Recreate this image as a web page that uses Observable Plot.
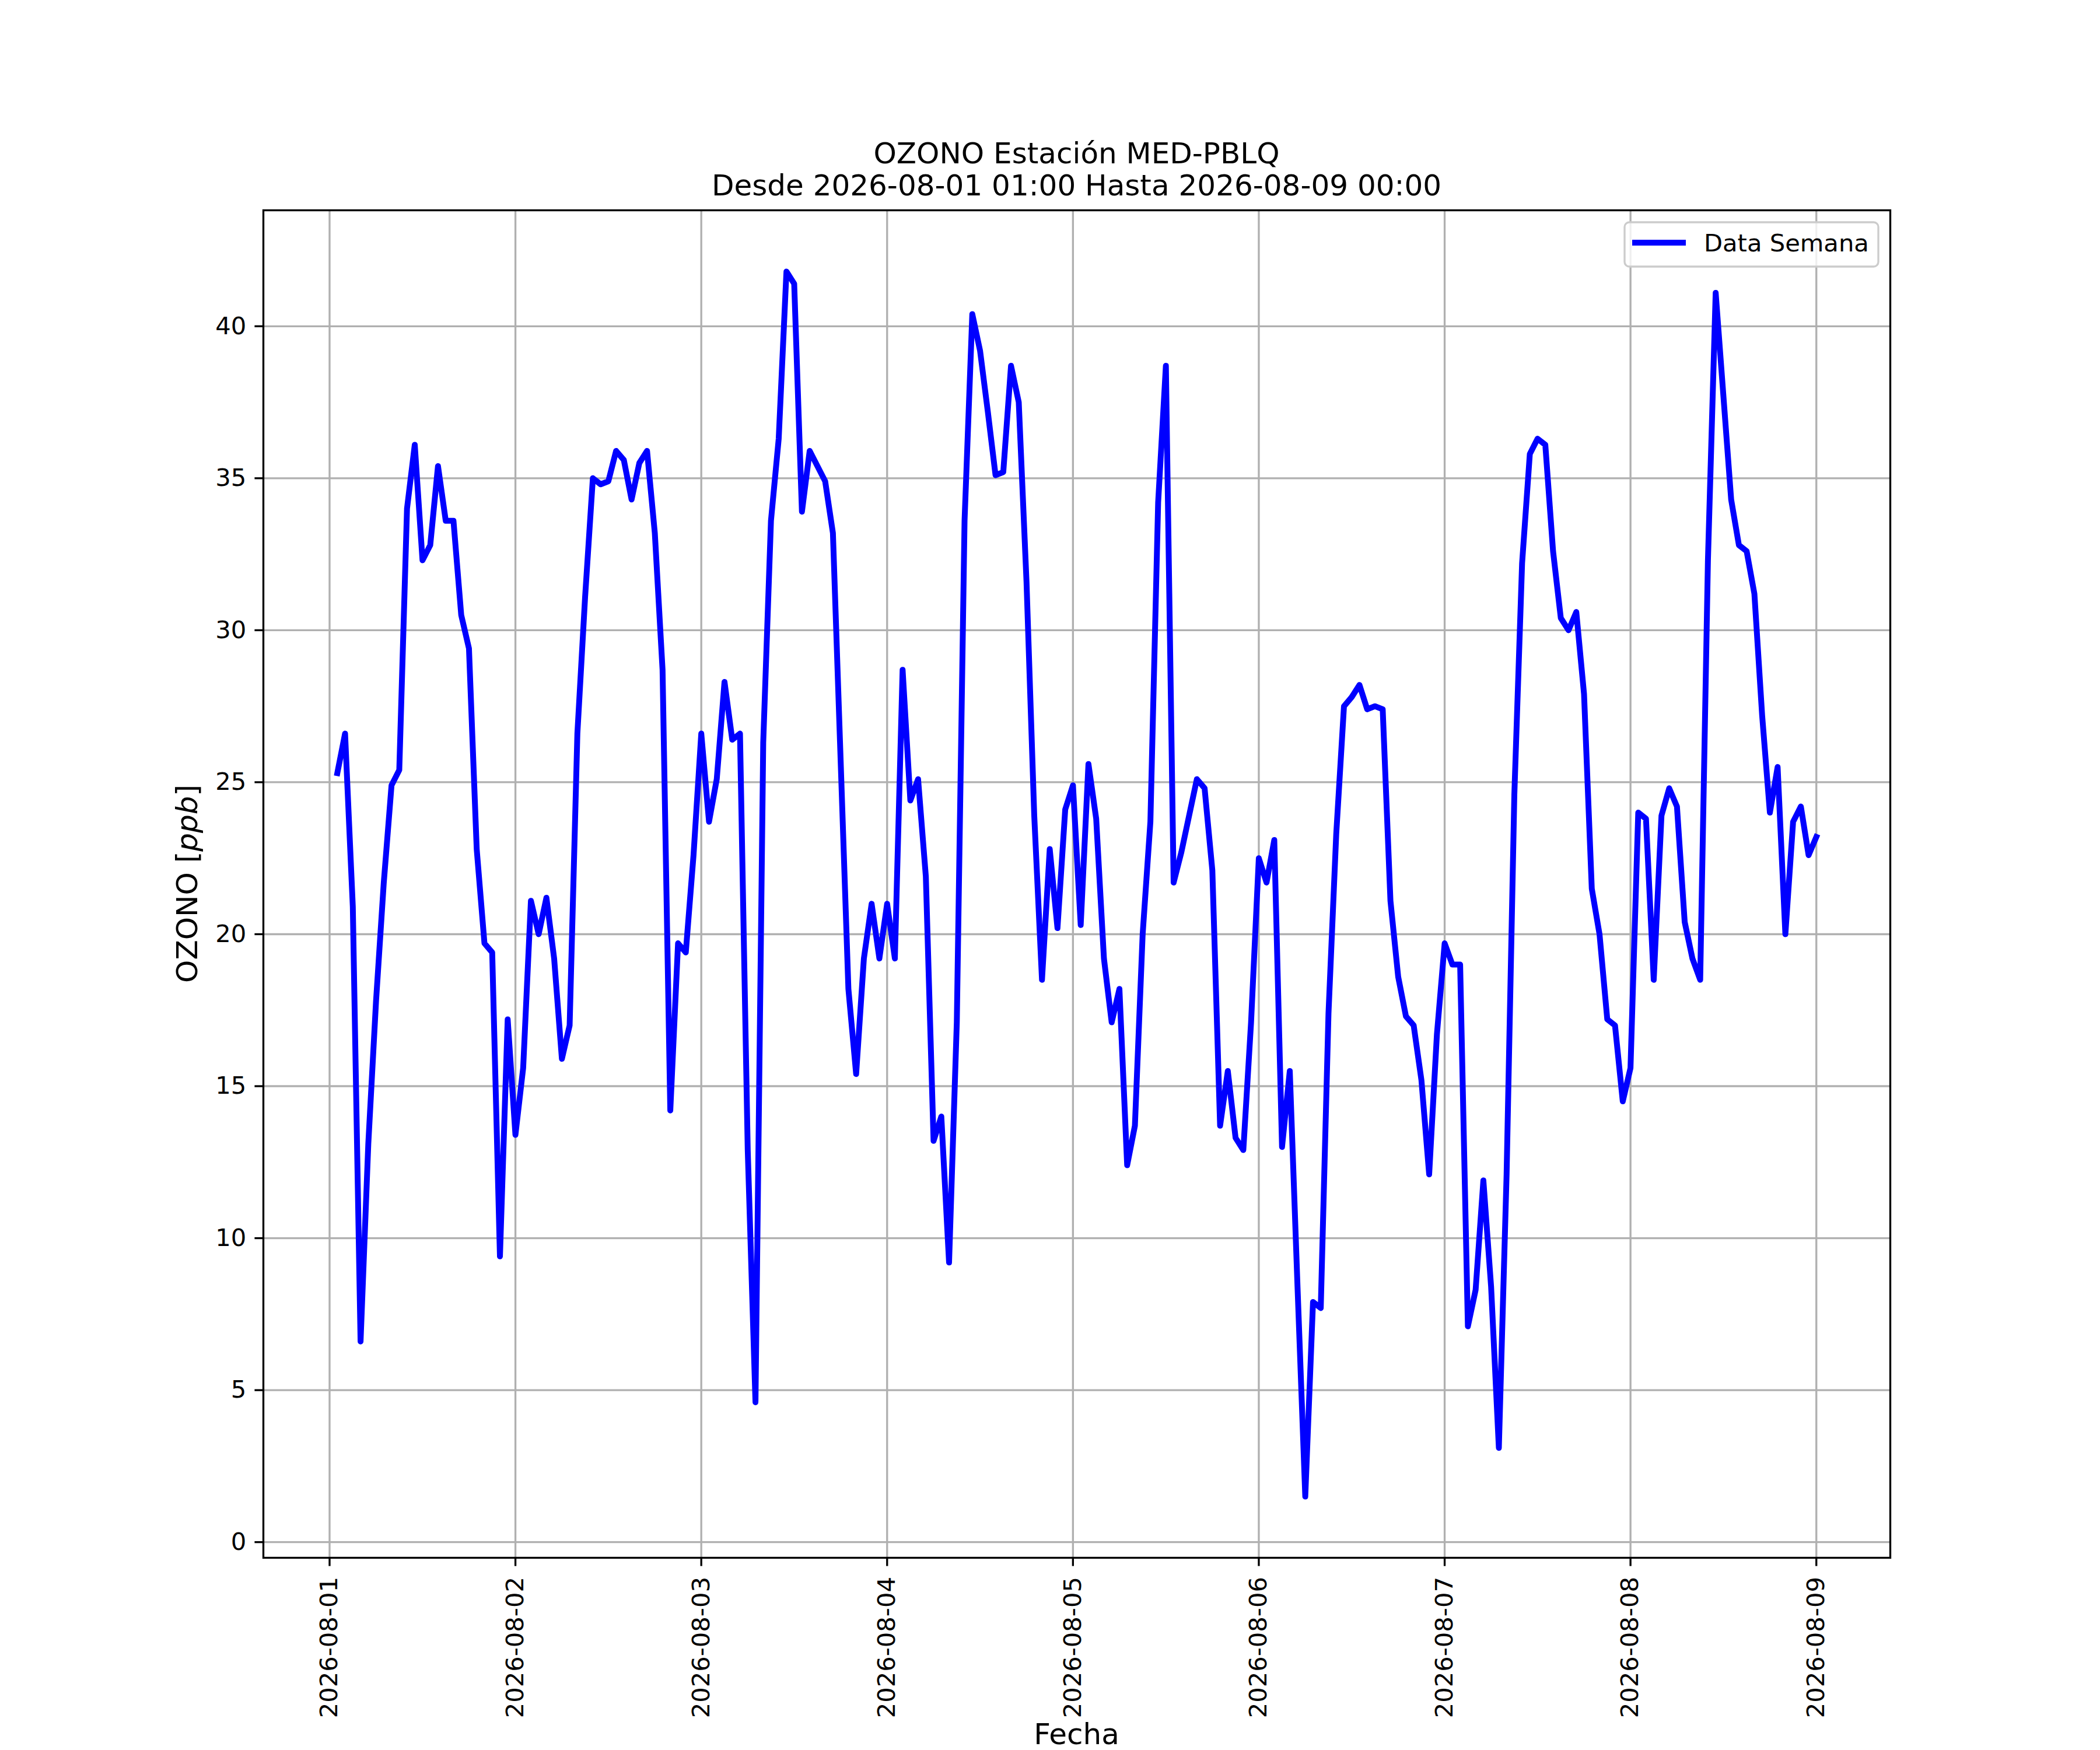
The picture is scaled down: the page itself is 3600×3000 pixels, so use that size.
<!DOCTYPE html>
<html>
<head>
<meta charset="utf-8">
<script src="https://cdn.jsdelivr.net/npm/d3@7"></script>
<script src="https://cdn.jsdelivr.net/npm/@observablehq/plot@0.6"></script>
<style>
  body { margin: 0; background: #ffffff; }
  #wrap { position: relative; width: 3600px; height: 3000px; background: #ffffff; }
</style>
</head>
<body>
<div id="wrap"></div>
<script>
// ---- texts ----
const titleLine1 = "OZONO Estación MED-PBLQ";
const titleLine2 = "Desde 2026-08-01 01:00 Hasta 2026-08-09 00:00";
const xLabel = "Fecha";
const yLabelMain = "OZONO ";
const yLabelUnit = "ppb";
const legendLabel = "Data Semana";

// ---- ticks ----
const dayTicks = ["2026-08-01","2026-08-02","2026-08-03","2026-08-04","2026-08-05","2026-08-06","2026-08-07","2026-08-08","2026-08-09"];
const yTicks = [0, 5, 10, 15, 20, 25, 30, 35, 40];

// ---- hourly ozone values [ppb], first value at 2026-08-01 01:00 ----
const firstHour = "2026-08-01T01:00:00Z";
const ozoneAug01 = [25.3, 26.6, 20.9, 6.6, 13.1, 17.8, 21.7, 24.9, 25.4, 34.0, 36.1, 32.3, 32.8, 35.4, 33.6, 33.6, 30.5, 29.4, 22.8, 19.7, 19.4, 9.4, 17.2]; // 01..23
const ozoneAug02 = [13.4, 15.6, 21.1, 20.0, 21.2, 19.2, 15.9, 17.0, 26.6, 31.1, 35.0, 34.8, 34.9, 35.9, 35.6, 34.3, 35.5, 35.9, 33.2, 28.7, 14.2, 19.7, 19.4, 22.6];
const ozoneAug03 = [26.6, 23.7, 25.1, 28.3, 26.4, 26.6, 12.9, 4.6, 26.3, 33.6, 36.3, 41.8, 41.4, 33.9, 35.9, 35.4, 34.9, 33.2, 25.7, 18.2, 15.4, 19.2, 21.0, 19.2];
const ozoneAug04 = [21.0, 19.2, 28.7, 24.4, 25.1, 21.9, 13.2, 14.0, 9.2, 17.1, 33.6, 40.4, 39.2, 37.2, 35.1, 35.2, 38.7, 37.5, 31.6, 23.9, 18.5, 22.8, 20.2, 24.1];
const ozoneAug05 = [24.9, 20.3, 25.6, 23.8, 19.2, 17.1, 18.2, 12.4, 13.7, 20.0, 23.7, 34.2, 38.7, 21.7, 22.7, 23.9, 25.1, 24.8, 22.1, 13.7, 15.5, 13.3, 12.9, 17.1];
const ozoneAug06 = [22.5, 21.7, 23.1, 13.0, 15.5, 8.4, 1.5, 7.9, 7.7, 17.4, 23.3, 27.5, 27.8, 28.2, 27.4, 27.5, 27.4, 21.1, 18.6, 17.3, 17.0, 15.2, 12.1, 16.7];
const ozoneAug07 = [19.7, 19.0, 19.0, 7.1, 8.3, 11.9, 8.4, 3.1, 12.1, 24.6, 32.2, 35.8, 36.3, 36.1, 32.6, 30.4, 30.0, 30.6, 27.9, 21.5, 20.0, 17.2, 17.0, 14.5];
const ozoneAug08 = [15.6, 24.0, 23.8, 18.5, 23.9, 24.8, 24.2, 20.4, 19.2, 18.5, 32.3, 41.1, 37.7, 34.3, 32.8, 32.6, 31.2, 27.2, 24.0, 25.5, 20.0, 23.7, 24.2, 22.6];
const ozoneAug09 = [23.2]; // 00:00

const ozone = [].concat(ozoneAug01, ozoneAug02, ozoneAug03, ozoneAug04, ozoneAug05, ozoneAug06, ozoneAug07, ozoneAug08, ozoneAug09);
const t0 = new Date(firstHour);
const data = ozone.map((v, i) => ({date: d3.utcHour.offset(t0, i), value: v}));

const tickDates = dayTicks.map(s => new Date(s + "T00:00:00Z"));

// matplotlib-like 5% margins
const tMin = data[0].date, tMax = data[data.length - 1].date;
const tPad = (tMax - tMin) * 0.05;
const vMin = d3.min(ozone), vMax = d3.max(ozone);
const vPad = (vMax - vMin) * 0.05;

const FONT = "DejaVu Sans";
const gridStyle = {stroke: "#b0b0b0", strokeOpacity: 1, strokeWidth: 3.33};

const plot = Plot.plot({
  width: 3600,
  height: 3000,
  marginLeft: 451,
  marginRight: 360,
  marginTop: 360,
  marginBottom: 330,
  style: {fontFamily: FONT, fontSize: "41.67px", background: "#ffffff", color: "#000000", overflow: "visible"},
  x: {type: "utc", domain: [new Date(+tMin - tPad), new Date(+tMax + tPad)]},
  y: {domain: [vMin - vPad, vMax + vPad]},
  marks: [
    Plot.gridX(tickDates, gridStyle),
    Plot.gridY(yTicks, gridStyle),
    Plot.lineY(data, {x: "date", y: "value", stroke: "#0000ff", strokeWidth: 10, strokeLinejoin: "round", strokeLinecap: "square"}),
    Plot.frame({stroke: "#000000", strokeWidth: 3.33}),
    Plot.axisX(tickDates, {
      tickSize: 14.6, tickPadding: 18, tickRotate: -90, strokeWidth: 3.33,
      tickFormat: d3.utcFormat("%Y-%m-%d"), label: null,
      fontSize: 41.67, fontFamily: FONT
    }),
    Plot.axisY(yTicks, {
      tickSize: 14.6, tickPadding: 14.6, strokeWidth: 3.33,
      tickFormat: d => String(d), label: null,
      fontSize: 41.67, fontFamily: FONT
    })
  ]
});

const svg = d3.select(plot);
const fx0 = 451, fx1 = 3600 - 360, fy0 = 360, fy1 = 3000 - 330;
const cx = (fx0 + fx1) / 2;

// title
svg.append("text").attr("x", cx).attr("y", 280).attr("text-anchor", "middle")
  .attr("font-family", FONT).attr("font-size", 50).attr("fill", "#000").text(titleLine1);
svg.append("text").attr("x", cx).attr("y", 335).attr("text-anchor", "middle")
  .attr("font-family", FONT).attr("font-size", 50).attr("fill", "#000").text(titleLine2);

// x label
svg.append("text").attr("x", cx).attr("y", 2990).attr("text-anchor", "middle")
  .attr("font-family", FONT).attr("font-size", 50).attr("fill", "#000").text(xLabel);

// y label with italic unit
const yl = svg.append("text")
  .attr("transform", `translate(338,${(fy0 + fy1) / 2}) rotate(-90)`)
  .attr("text-anchor", "middle").attr("font-family", FONT).attr("font-size", 50).attr("fill", "#000");
yl.append("tspan").text(yLabelMain + "[");
yl.append("tspan").attr("font-style", "italic").text(yLabelUnit);
yl.append("tspan").text("]");

// legend (upper right)
const lg = svg.append("g");
lg.append("rect").attr("x", 2785).attr("y", 381).attr("width", 435).attr("height", 76)
  .attr("rx", 8).attr("ry", 8).attr("fill", "#ffffff").attr("fill-opacity", 0.8)
  .attr("stroke", "#cccccc").attr("stroke-width", 3.33);
lg.append("line").attr("x1", 2798).attr("x2", 2890).attr("y1", 416).attr("y2", 416)
  .attr("stroke", "#0000ff").attr("stroke-width", 10).attr("stroke-linecap", "butt");
lg.append("text").attr("x", 2921).attr("y", 431).attr("text-anchor", "start")
  .attr("font-family", FONT).attr("font-size", 41.67)
  .attr("fill", "#000").text(legendLabel);

document.getElementById("wrap").appendChild(plot);
</script>
</body>
</html>
